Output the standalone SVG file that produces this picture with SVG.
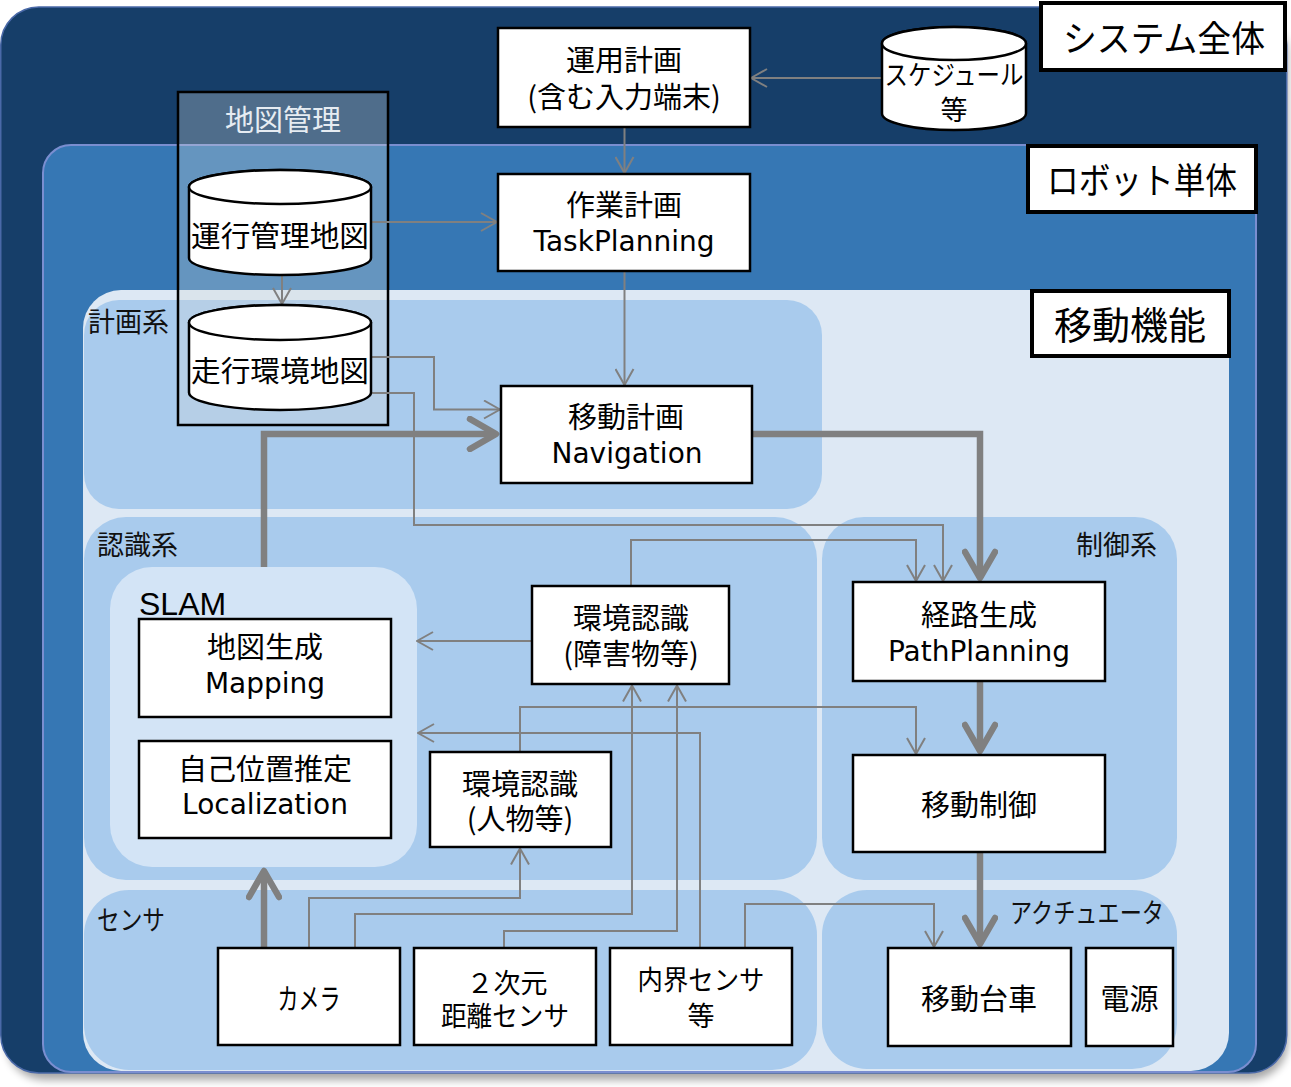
<svg xmlns="http://www.w3.org/2000/svg" width="1291" height="1087" viewBox="0 0 1291 1087">
<defs>
<style>
.node{fill:#fff;stroke:#000;stroke-width:2.5}
.lbl{fill:#fff;stroke:#000;stroke-width:4}
.j{font-family:"Noto Sans CJK JP",sans-serif;font-size:29px;text-anchor:middle;dominant-baseline:central;fill:#000}
.s{font-size:27px}
.l{font-family:"DejaVu Sans","Noto Sans CJK JP",sans-serif;font-size:28px}
.g{font-family:"Noto Sans CJK JP",sans-serif;font-size:27px;dominant-baseline:central;fill:#111}
.big{font-family:"Noto Sans CJK JP",sans-serif;font-size:36px;text-anchor:middle;dominant-baseline:central;fill:#000}
.thin{fill:none;stroke:#808080;stroke-width:2}
.thick{fill:none;stroke:#808080;stroke-width:6.5}
.panel{fill:#a9cbed}
</style>
<marker id="ah" viewBox="0 0 18 20" refX="17" refY="10" markerWidth="18" markerHeight="20" markerUnits="userSpaceOnUse" orient="auto">
<path d="M1,1 L17,10 L1,19" fill="none" stroke="#808080" stroke-width="2"/>
</marker>
<marker id="ahT" viewBox="0 0 36 36" refX="30" refY="18" markerWidth="36" markerHeight="36" markerUnits="userSpaceOnUse" orient="auto">
<path d="M4,3 L30,18 L4,33" fill="none" stroke="#808080" stroke-width="6.5" stroke-linecap="round" stroke-linejoin="round"/>
</marker>
<filter id="blur" x="-5%" y="-5%" width="110%" height="110%"><feGaussianBlur stdDeviation="4"/></filter>
</defs>

<!-- background frames -->
<rect x="6" y="16" width="1282" height="1064" rx="38" fill="#000" opacity="0.35" filter="url(#blur)"/>
<rect id="system-frame" x="0.75" y="7" width="1286" height="1066" rx="38" fill="#163e69" stroke="#4a69a8" stroke-width="1.5"/>
<rect id="robot-frame" x="43" y="145" width="1213" height="927" rx="28" fill="#3677b4" stroke="#7a8ed0" stroke-width="2"/>
<rect id="mobility-frame" x="83" y="290" width="1146" height="781" rx="38" fill="#dde8f4"/>

<!-- panels -->
<rect id="panel-plan" class="panel" x="84" y="300" width="738" height="209" rx="35"/>
<rect id="panel-recog" class="panel" x="84" y="517" width="733" height="363" rx="42"/>
<rect id="panel-ctrl" class="panel" x="822" y="517" width="355" height="363" rx="42"/>
<rect id="panel-sensor" class="panel" x="84" y="890" width="733" height="180" rx="45"/>
<rect id="panel-act" class="panel" x="822" y="890" width="355" height="179" rx="45"/>
<rect id="panel-slam" x="110" y="567" width="307" height="300" rx="42" fill="#d3e4f6"/>

<text class="g" x="88" y="320">計画系</text>
<text class="g" x="97" y="543">認識系</text>
<text class="g" x="1076" y="543">制御系</text>
<text class="g" x="97" y="918" textLength="68" lengthAdjust="spacingAndGlyphs">センサ</text>
<text class="g" x="1010" y="911" textLength="154" lengthAdjust="spacingAndGlyphs">アクチュエータ</text>
<text x="139" y="615" font-family="Liberation Sans, Arial, sans-serif" font-size="32" fill="#000">SLAM</text>

<!-- map management group -->
<g id="map-management">
<rect x="178" y="92" width="210" height="333" fill="#d5d9dc" fill-opacity="0.3" stroke="#000" stroke-width="2.5"/>
<text class="j" x="283" y="118" style="fill:#e6ecf2">地図管理</text>
</g>

<!-- connectors -->
<g id="connectors">
<path class="thin" d="M882,78 H751" marker-end="url(#ah)"/>
<path class="thin" d="M624.5,127 V173" marker-end="url(#ah)"/>
<path class="thin" d="M371,222 H497" marker-end="url(#ah)"/>
<path class="thin" d="M282,275 V304" marker-end="url(#ah)"/>
<path class="thin" d="M624.5,271 V385" marker-end="url(#ah)"/>
<path class="thin" d="M371,357 H434 V409.5 H500" marker-end="url(#ah)"/>
<path class="thin" d="M371,393 H414 V525 H943 V581" marker-end="url(#ah)"/>
<path class="thin" d="M631,586 V540 H916 V581" marker-end="url(#ah)"/>
<path class="thin" d="M532,641 H417" marker-end="url(#ah)"/>
<path class="thin" d="M700,948 V733 H418" marker-end="url(#ah)"/>
<path class="thin" d="M520,752 V707 H916 V754" marker-end="url(#ah)"/>
<path class="thin" d="M309,948 V898 H520 V848.5" marker-end="url(#ah)"/>
<path class="thin" d="M355,948 V914 H632 V685.5" marker-end="url(#ah)"/>
<path class="thin" d="M504,948 V931 H677 V685.5" marker-end="url(#ah)"/>
<path class="thin" d="M745,948 V904 H934 V947" marker-end="url(#ah)"/>
<path class="thick" d="M264,567 V434 H496" marker-end="url(#ahT)"/>
<path class="thick" d="M752,434 H980 V578" marker-end="url(#ahT)"/>
<path class="thick" d="M980,681 V751" marker-end="url(#ahT)"/>
<path class="thick" d="M980,852 V944" marker-end="url(#ahT)"/>
<path class="thick" d="M264,948 V871" marker-end="url(#ahT)"/>
</g>

<!-- cylinders -->
<g id="db-operation-map">
<path d="M189,187 V258 A91,17 0 0 0 371,258 V187 A91,17 0 0 0 189,187 Z" fill="#fff" stroke="#000" stroke-width="2.5"/>
<ellipse cx="280" cy="187" rx="91" ry="17" fill="#fff" stroke="#000" stroke-width="2.5"/>
<text class="j" x="280" y="234" textLength="178" lengthAdjust="spacingAndGlyphs">運行管理地図</text>
</g>
<g id="db-travel-map">
<path d="M189,322.5 V392.5 A91,17.5 0 0 0 371,392.5 V322.5 A91,17.5 0 0 0 189,322.5 Z" fill="#fff" stroke="#000" stroke-width="2.5"/>
<ellipse cx="280" cy="322.5" rx="91" ry="17.5" fill="#fff" stroke="#000" stroke-width="2.5"/>
<text class="j" x="280" y="369" textLength="178" lengthAdjust="spacingAndGlyphs">走行環境地図</text>
</g>
<g id="db-schedule">
<path d="M882,43.5 V113.5 A72,16.5 0 0 0 1026,113.5 V43.5 A72,16.5 0 0 0 882,43.5 Z" fill="#fff" stroke="#000" stroke-width="2.5"/>
<ellipse cx="954" cy="43.5" rx="72" ry="16.5" fill="#fff" stroke="#000" stroke-width="2.5"/>
<text class="j s"><tspan x="954" y="73" textLength="139" lengthAdjust="spacingAndGlyphs">スケジュール</tspan><tspan x="954" y="108">等</tspan></text>
</g>

<!-- frame labels -->
<g id="label-system"><rect class="lbl" x="1041" y="3" width="244" height="67"/><text class="big" x="1164" y="36" textLength="202" lengthAdjust="spacingAndGlyphs">システム全体</text></g>
<g id="label-robot"><rect class="lbl" x="1028" y="146" width="228" height="66"/><text class="big" x="1142" y="178" textLength="190" lengthAdjust="spacingAndGlyphs">ロボット単体</text></g>
<g id="label-mobility"><rect class="lbl" x="1032" y="291" width="197" height="65"/><text class="big" x="1130" y="322" style="font-size:38px">移動機能</text></g>

<!-- nodes -->
<g id="node-operation-plan"><rect class="node" x="498" y="28" width="252" height="99"/><text class="j"><tspan x="624" y="58">運用計画</tspan><tspan x="624" y="94.5">(含む入力端末)</tspan></text></g>
<g id="node-task-planning"><rect class="node" x="498" y="174" width="252" height="97"/><text class="j"><tspan x="624" y="203">作業計画</tspan><tspan class="l" x="624" y="241">TaskPlanning</tspan></text></g>
<g id="node-navigation"><rect class="node" x="501" y="386" width="251" height="97"/><text class="j"><tspan x="626" y="415">移動計画</tspan><tspan class="l" x="627" y="453">Navigation</tspan></text></g>
<g id="node-env-obstacle"><rect class="node" x="532" y="586" width="197" height="98"/><text class="j"><tspan x="631" y="616">環境認識</tspan><tspan x="631" y="652">(障害物等)</tspan></text></g>
<g id="node-mapping"><rect class="node" x="139" y="619" width="252" height="98"/><text class="j"><tspan x="265" y="645">地図生成</tspan><tspan class="l" x="265" y="682.5">Mapping</tspan></text></g>
<g id="node-localization"><rect class="node" x="139" y="741" width="252" height="97"/><text class="j"><tspan x="265" y="767">自己位置推定</tspan><tspan class="l" x="265" y="804">Localization</tspan></text></g>
<g id="node-env-person"><rect class="node" x="430" y="752" width="181" height="95"/><text class="j"><tspan x="520" y="781.5">環境認識</tspan><tspan x="520" y="817">(人物等)</tspan></text></g>
<g id="node-path-planning"><rect class="node" x="853" y="582" width="252" height="99"/><text class="j"><tspan x="979" y="613">経路生成</tspan><tspan class="l" x="979" y="651">PathPlanning</tspan></text></g>
<g id="node-motion-control"><rect class="node" x="853" y="755" width="252" height="97"/><text class="j" x="979" y="803">移動制御</text></g>
<g id="node-camera"><rect class="node" x="218" y="948" width="182" height="97"/><text class="j" x="309" y="997" textLength="63" lengthAdjust="spacingAndGlyphs">カメラ</text></g>
<g id="node-lidar"><rect class="node" x="414" y="948" width="182" height="97"/><text class="j s"><tspan x="507" y="981">２次元</tspan><tspan x="505" y="1014" textLength="128" lengthAdjust="spacingAndGlyphs">距離センサ</tspan></text></g>
<g id="node-internal-sensor"><rect class="node" x="610" y="948" width="182" height="97"/><text class="j s"><tspan x="701" y="978" textLength="127" lengthAdjust="spacingAndGlyphs">内界センサ</tspan><tspan x="701" y="1014">等</tspan></text></g>
<g id="node-base"><rect class="node" x="888" y="948" width="183" height="98"/><text class="j" x="979" y="996.5">移動台車</text></g>
<g id="node-power"><rect class="node" x="1086" y="948" width="87" height="98"/><text class="j" x="1129.5" y="996.5">電源</text></g>
</svg>
